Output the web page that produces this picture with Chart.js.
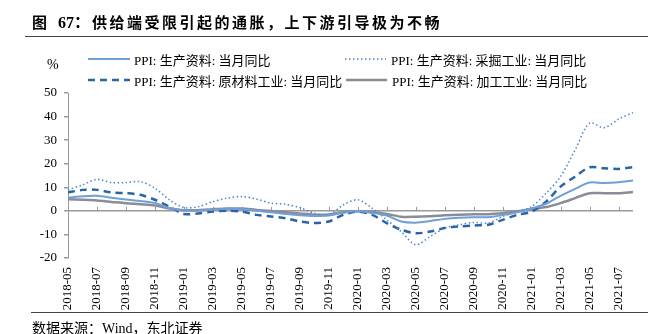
<!DOCTYPE html>
<html>
<head>
<meta charset="utf-8">
<script src="https://cdn.jsdelivr.net/npm/chart.js@4/dist/chart.umd.min.js"></script>
<style>
  body { margin: 0; background: #fff; }
  #wrap { position: relative; width: 669px; height: 334px; overflow: hidden; font-family: "Liberation Serif", "Noto Sans CJK SC", serif; }
  #chart { position: absolute; left: 0; top: 0; }
  .abs { position: absolute; white-space: nowrap; line-height: 20px; }
  .ttl { top: 13px; font-weight: bold; font-size: 15px; font-family: "Liberation Serif", "Noto Sans CJK SC", sans-serif; color: #000; }
  .rule { position: absolute; height: 1px; background: #444; z-index: 2; }
  .leg { position: absolute; display: flex; align-items: center; font-size: 13px; color: #000; white-space: nowrap; height: 20px; }
  .leg svg { flex: none; }
</style>
</head>
<body>
<div id="wrap">
  <canvas id="chart" width="669" height="334"></canvas>
  <div class="abs ttl" style="left:32px;">图</div>
  <div class="abs ttl" style="left:58px; font-size:16px;">67：</div>
  <div class="abs ttl" style="left:92px; letter-spacing:2.5px;">供给端受限引起的通胀，上下游引导极为不畅</div>
  <div class="rule" style="left:25px; top:36px; width:623px;"></div>
  <div class="abs" style="left:47px; top:55px; font-size:14px;">%</div>
  <div id="legend"></div>
  <div class="rule" style="left:31px; top:312px; width:617px;"></div>
  <div class="abs" style="left:32px; top:319px; font-size:14px;">数据来源：Wind，东北证券</div>
</div>
<script>
let months = [
    '2018-05','2018-06','2018-07','2018-08','2018-09','2018-10','2018-11','2018-12',
    '2019-01','2019-02','2019-03','2019-04','2019-05','2019-06','2019-07','2019-08','2019-09','2019-10','2019-11','2019-12',
    '2020-01','2020-02','2020-03','2020-04','2020-05','2020-06','2020-07','2020-08','2020-09','2020-10','2020-11','2020-12',
    '2021-01','2021-02','2021-03','2021-04','2021-05','2021-06','2021-07','2021-08'
];

// PPI: 生产资料: 当月同比
let producerGoods = [
    5.6, 6.2, 6.4, 5.6, 4.8, 4.2, 3.3, 1.2,
    0.1, 0.1, 0.5, 0.9, 0.8, 0.0, -0.6, -1.3, -1.9, -2.2, -2.0, -0.8,
    -0.2, -0.9, -2.0, -4.5, -5.0, -4.3, -3.4, -2.9, -2.7, -2.7, -1.8, -0.6,
    1.0, 3.0, 6.4, 9.3, 12.0, 11.8, 12.1, 12.9
];

// PPI: 生产资料: 采掘工业: 当月同比
let mining = [
    8.9, 11.0, 13.4, 12.0, 12.0, 12.4, 9.6, 4.7,
    1.4, 1.8, 3.9, 5.4, 6.1, 5.0, 3.3, 2.8, 1.4, -1.0, -1.7, 2.5,
    4.7, 1.1, -3.8, -8.8, -14.4, -10.9, -7.3, -5.9, -4.9, -5.2, -2.4, -0.3,
    1.8, 7.5, 14.5, 25.8, 37.2, 35.3, 38.9, 41.7
];

// PPI: 生产资料: 原材料工业: 当月同比
let rawMaterials = [
    7.8, 8.9, 8.9, 7.8, 7.5, 6.8, 4.7, 1.8,
    -1.3, -1.1, -0.3, 0.1, -0.3, -1.7, -2.4, -3.1, -4.5, -5.2, -4.5, -1.7,
    -0.3, -1.7, -5.2, -8.0, -9.5, -8.8, -7.3, -6.6, -6.2, -5.9, -3.8, -1.7,
    -0.3, 3.9, 10.3, 14.5, 18.5, 18.1, 17.8, 18.5
];

// PPI: 生产资料: 加工工业: 当月同比
let processing = [
    4.9, 4.7, 4.4, 3.8, 3.2, 2.8, 2.3, 1.0,
    0.3, 0.3, 0.7, 1.0, 1.0, 0.4, -0.1, -0.6, -1.1, -1.6, -1.5, -0.6,
    -0.2, -0.5, -1.3, -2.5, -2.5, -2.3, -1.9, -1.6, -1.4, -1.4, -1.0, -0.2,
    0.8, 1.6, 3.3, 5.4, 7.5, 7.5, 7.5, 8.0
];

let yTicks = { min: -20, max: 50, step: 10 };

let series = [
    { label: 'PPI: 生产资料: 当月同比', data: producerGoods, color: '#6f9fd6', width: 2, dash: [], legend: [88, 49, 42] },
    { label: 'PPI: 生产资料: 采掘工业: 当月同比', data: mining, color: '#4a86c8', width: 1.5, dash: [1.5, 2.5], legend: [345, 49, 41] },
    { label: 'PPI: 生产资料: 原材料工业: 当月同比', data: rawMaterials, color: '#2a64a4', width: 2.5, dash: [7, 5], legend: [88, 70, 42] },
    { label: 'PPI: 生产资料: 加工工业: 当月同比', data: processing, color: '#8a8c98', width: 2.5, dash: [], legend: [346, 70, 41] }
];

// legend
let legendHtml = '';
for (let i = 0; i < series.length; i++) {
    const s = series[i];
    const w = s.legend[2];
    legendHtml += `
    <div class="leg" style="left:${s.legend[0]}px; top:${s.legend[1]}px;">
        <svg width="${w}" height="6" style="margin-right:${46 - w}px"><line x1="0" y1="3" x2="${w}" y2="3" stroke="${s.color}" stroke-width="${s.width}" stroke-dasharray="${s.dash.join(',')}"/></svg>
        <span>${s.label}</span>
    </div>`;
}
document.getElementById('legend').innerHTML = legendHtml;

let zeroTicks = {
    id: 'zeroTicks',
    beforeDatasetsDraw(chart) {
        const ctx = chart.ctx;
        const x = chart.scales.x;
        const y0 = chart.scales.y.getPixelForValue(0);
        ctx.save();
        ctx.strokeStyle = '#9a9a9a';
        ctx.lineWidth = 1;
        for (let i = 0; i < months.length; i += 2) {
            const px = Math.round(x.getPixelForValue(i)) + 0.5;
            ctx.beginPath();
            ctx.moveTo(px, y0);
            ctx.lineTo(px, y0 - 4);
            ctx.stroke();
        }
        ctx.restore();
    }
};

new Chart(document.getElementById('chart'), {
    type: 'line',
    data: {
        labels: months,
        datasets: series.map(s => ({
            label: s.label,
            data: s.data,
            borderColor: s.color,
            borderWidth: s.width,
            borderDash: s.dash,
            pointRadius: 0,
            tension: 0.3,
            fill: false
        }))
    },
    options: {
        responsive: false,
        animation: false,
        layout: { padding: { top: 93, right: 36, left: 0, bottom: 0 } },
        plugins: { legend: { display: false }, tooltip: { enabled: false } },
        scales: {
            x: {
                grid: { display: false, drawTicks: false },
                border: { display: false },
                afterFit: s => { s.height = 76; },
                ticks: {
                    autoSkip: false,
                    minRotation: 90,
                    maxRotation: 90,
                    padding: 9,
                    color: '#000',
                    font: { family: 'Liberation Serif', size: 13 },
                    callback: (v, i) => (i % 2 === 0 ? months[i] : null)
                }
            },
            y: {
                min: yTicks.min,
                max: yTicks.max,
                afterFit: s => { s.width = 68; },
                grid: {
                    color: c => (c.tick && c.tick.value === 0 ? '#9a9a9a' : 'rgba(0,0,0,0)'),
                    tickColor: '#9a9a9a',
                    tickLength: 4,
                    lineWidth: 1.5
                },
                border: { color: '#9a9a9a', width: 1 },
                ticks: {
                    stepSize: yTicks.step,
                    padding: 7,
                    color: '#000',
                    font: { family: 'Liberation Serif', size: 13 }
                }
            }
        }
    },
    plugins: [zeroTicks]
});
</script>
</body>
</html>
